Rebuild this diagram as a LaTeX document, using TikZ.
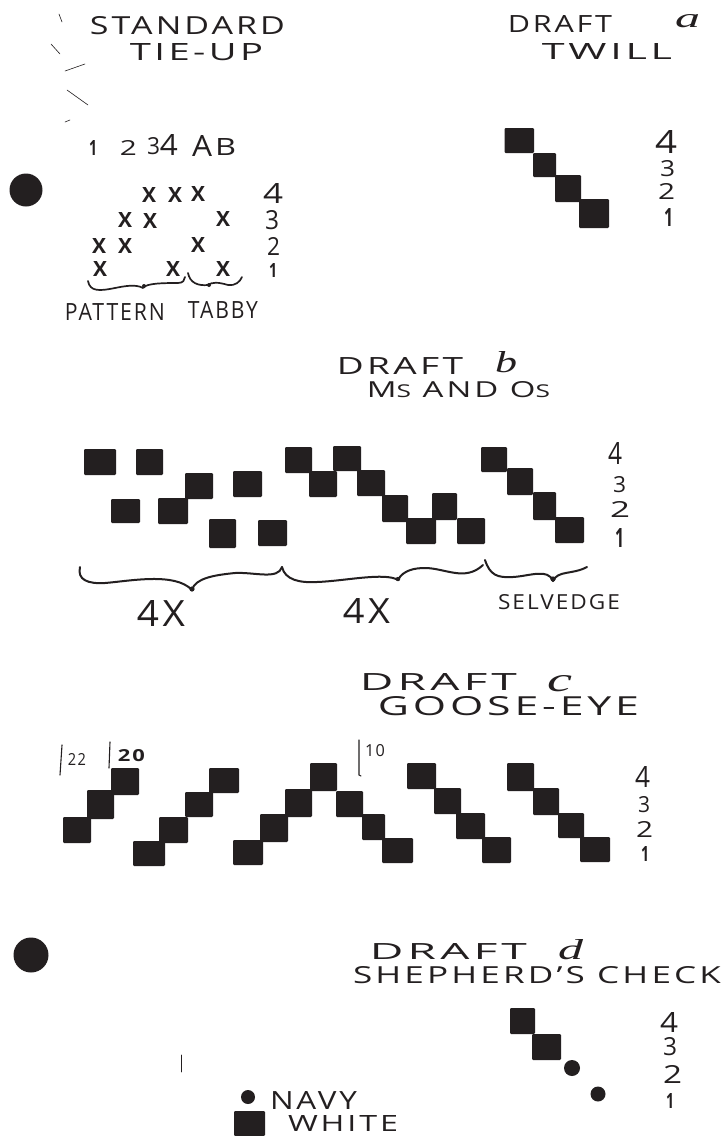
\documentclass[tikz,border=0pt]{standalone}
\usepackage{graphicx}
\usepackage{fontspec}
\setmainfont{Open Sans}[LetterSpace=9]
\newfontfamily\curs{Liberation Serif}
\definecolor{ink}{HTML}{231F20}
\tikzset{
  squarefill/.style={fill=ink,rounded corners=1.2pt},
  dotfill/.style={fill=ink},
  hand/.style={draw=ink,line width=2pt,line cap=round,line join=round},
  tickline/.style={draw=ink,line width=1.1pt,line cap=round},
  speck/.style={draw=ink,line width=0.6pt,line cap=round},
  lbl/.style={inner sep=0pt,outer sep=0pt,text=ink,anchor=center}
}
% name, x1, y1, x2, y2, text
\newcommand{\lab}[6]{\node[lbl] (#1) at ({(#2+#4)/2},{(#3+#5)/2})
  {\resizebox{\dimexpr #4pt-#2pt\relax}{\dimexpr #5pt-#3pt\relax}{#6}};}
\newcommand{\xmark}[3]{\node[lbl] (#1) at (#2,#3) {\resizebox{14pt}{15pt}{\bfseries X}};}
\newcommand{\sqr}[4]{\fill[squarefill] (#1,#2) rectangle (#3,#4);}
\newcommand{\mydot}[3]{\fill[dotfill] (#1,#2) circle[radius=#3];}
\begin{document}
\begin{tikzpicture}[x=1pt,y=-1pt]
\useasboundingbox (0,0) rectangle (722,1136);
\fill[white] (0,0) rectangle (722,1136);

% ---------- Standard tie-up
\lab{t1a}{90}{17}{285}{35}{STANDARD}
\lab{t1b}{130}{44}{263}{61}{TIE-UP}
\lab{h1}{89}{140}{97}{155}{\bfseries 1}
\lab{h2}{120}{140}{137}{155}{2}
\lab{h3}{147}{138}{160}{155}{3}
\lab{h4}{160}{134}{178}{155}{4}
\lab{hA}{192}{135}{212}{156}{A}
\lab{hB}{215}{138}{236}{155}{B}
\xmark{x41}{149}{195}\xmark{x42}{175}{195}\xmark{x43}{198}{194}
\xmark{x31}{125}{220}\xmark{x32}{150}{221}\xmark{x33}{223}{219}
\xmark{x21}{99}{246}\xmark{x22}{125}{246}\xmark{x23}{198}{245}
\xmark{x11}{100}{269}\xmark{x12}{173}{269}\xmark{x13}{223}{269}
\lab{n14}{263}{183}{283}{203}{4}
\lab{n13}{265}{211}{279}{230}{3}
\lab{n12}{267}{237}{280}{255}{2}
\lab{n11}{269}{263}{277}{277}{\bfseries 1}
\draw[hand,line width=1.7pt] (88,281) .. controls (90,292) and (100,291) .. (115,288) .. controls (125,286) and (136,284) .. (143,288) .. controls (146,283) and (165,283) .. (178,283) .. controls (183,283) and (185,280) .. (185,277);
\fill[ink] (144,286) circle[radius=2];
\draw[hand,line width=1.7pt] (188,273) .. controls (190,283) and (198,286) .. (208,285) .. controls (212,282) and (218,282) .. (228,285) .. controls (235,286) and (240,282) .. (242,277);
\fill[ink] (209,285) circle[radius=2];
\lab{lpat}{65}{303}{165}{320}{PATTERN}
\lab{ltab}{188}{301}{258}{318}{TABBY}
\mydot{26}{190}{16.5}
% specks
\draw[speck] (59,14) -- (62,22);
\draw[speck] (51,44) -- (60,54);
\draw[speck] (65,71) -- (85,64);
\draw[speck] (67,90) -- (88,105);
\draw[speck] (65,122) -- (70,120);
\draw[speck] (181,1055) -- (181,1072);

% ---------- Draft a
\lab{t2a}{508}{15}{612}{32}{DRAFT}
\lab{t2b}{675}{15}{700}{28}{\curs\itshape a}
\lab{t2c}{542}{43}{672}{59}{TWILL}
\sqr{504.5}{128}{534}{153}\sqr{533}{153}{556}{177}\sqr{555}{175}{581}{202}\sqr{579}{199}{609}{228}
\lab{a4}{655}{130}{677}{153}{4}
\lab{a3}{660}{161}{675}{177}{3}
\lab{a2}{658}{183}{675}{199}{2}
\lab{a1}{664}{208}{673}{226}{\bfseries 1}

% ---------- Draft b
\lab{t3a}{337}{357}{463}{374}{DRAFT}
\lab{t3b}{495}{352}{517}{373}{\curs\itshape b}
\lab{t3c}{367}{382}{550}{398}{M{\footnotesize S} AND O{\footnotesize S}}
\sqr{84}{449}{116}{475}\sqr{136}{449}{163}{475}\sqr{111}{499}{140}{523}\sqr{158}{498}{188}{524}
\sqr{185}{473}{213}{499}\sqr{233}{471}{262}{497}\sqr{209}{519}{236}{548}\sqr{258}{520}{287}{546}
\sqr{285}{447}{312}{473}\sqr{309}{471}{337}{497}\sqr{333}{446}{361}{471}\sqr{357}{470}{385}{496}
\sqr{382}{495}{408}{522}\sqr{406}{518}{436}{544}\sqr{432}{493}{457}{520}\sqr{457}{518}{485}{544}
\sqr{481}{447}{507}{472}\sqr{507}{468}{533}{495}\sqr{533}{492}{556}{520}\sqr{555}{517}{584}{543}
\lab{b4}{608}{442}{622}{464}{4}
\lab{b3}{613}{477}{626}{493}{3}
\lab{b2}{610}{501}{630}{517}{2}
\lab{b1}{615}{528}{624}{547}{\bfseries 1}
\draw[hand] (80,567) .. controls (77,580) and (88,584) .. (105,583) .. controls (130,581) and (175,572) .. (192,590) .. controls (195,578) and (215,575) .. (235,573) .. controls (255,572) and (278,580) .. (282,567);
\fill[ink] (192,589) circle[radius=2.6];
\draw[hand] (282,567) .. controls (285,580) and (300,583) .. (317,582) .. controls (345,581) and (385,572) .. (398,580) .. controls (403,570) and (415,568) .. (425,568) .. controls (445,568) and (465,582) .. (483,565);
\fill[ink] (398,579) circle[radius=2.2];
\draw[hand] (485,560) .. controls (490,575) and (497,578) .. (513,577) .. controls (530,576) and (548,568) .. (553,581) .. controls (558,570) and (572,575) .. (587,567);
\fill[ink] (553,579) circle[radius=2.6];
\lab{l4x1}{137}{600}{185}{626}{4X}
\lab{l4x2}{343}{598}{390}{623}{4X}
\lab{lsel}{498}{595}{620}{610}{SELVEDGE}

% ---------- Draft c
\lab{t4a}{360}{673}{517}{690}{DRAFT}
\lab{t4b}{547}{676}{572}{692}{\curs\itshape c}
\lab{t4c}{378}{697}{639}{716}{GOOSE-EYE}
\sqr{111}{768}{139}{795}\sqr{87}{790}{114}{819}\sqr{63}{817}{91}{843}\sqr{133}{841}{165}{866}
\sqr{159}{817}{188}{843}\sqr{185}{792}{213}{817}\sqr{209}{768}{239}{793}\sqr{233}{840}{263}{865}
\sqr{260}{814}{288}{842}\sqr{285}{789}{312}{817}\sqr{310}{763}{337}{791}\sqr{336}{791}{363}{817}
\sqr{362}{814}{385}{840}\sqr{382}{838}{413}{863}\sqr{407}{763}{436}{789}\sqr{434}{788}{461}{814}
\sqr{456}{813}{485}{839}\sqr{482}{837}{511}{863}\sqr{507}{763}{534}{791}\sqr{533}{788}{559}{815}
\sqr{558}{813}{584}{838}\sqr{580}{837}{610}{862}
\lab{c4}{635}{766}{650}{787}{4}
\lab{c3}{638}{797}{650}{813}{3}
\lab{c2}{636}{821}{653}{837}{2}
\lab{c1}{641}{846}{649}{861}{\bfseries 1}
\draw[tickline] (62,745) -- (60,775);
\draw[tickline] (110,742) -- (109,768);
\draw[tickline] (359,740) -- (359,775) -- (361,776);
\lab{m22}{68}{753}{86}{765}{22}
\lab{m20}{118}{750}{145}{762}{\bfseries 20}
\lab{m10}{365}{745}{385}{757}{10}

% ---------- Draft d
\lab{t5a}{370}{943}{527}{959}{DRAFT}
\lab{t5b}{558}{940}{583}{960}{\curs\itshape d}
\lab{t5c}{353}{967}{721}{984}{SHEPHERD'S CHECK}
\sqr{510}{1008}{535}{1034}\sqr{532}{1034}{561}{1060}
\mydot{572}{1068}{8}
\mydot{598}{1094}{7.5}
\lab{d4}{660}{1012}{678}{1032}{4}
\lab{d3}{663}{1038}{677}{1056}{3}
\lab{d2}{663}{1065}{682}{1083}{2}
\lab{d1}{666}{1093}{674}{1108}{\bfseries 1}
\mydot{248}{1097}{7}
\lab{lnavy}{270}{1091}{357}{1109}{NAVY}
\sqr{234}{1111}{265}{1136}
\lab{lwhite}{288}{1115}{398}{1131}{WHITE}
\mydot{31}{955}{17.5}
\end{tikzpicture}
\end{document}
